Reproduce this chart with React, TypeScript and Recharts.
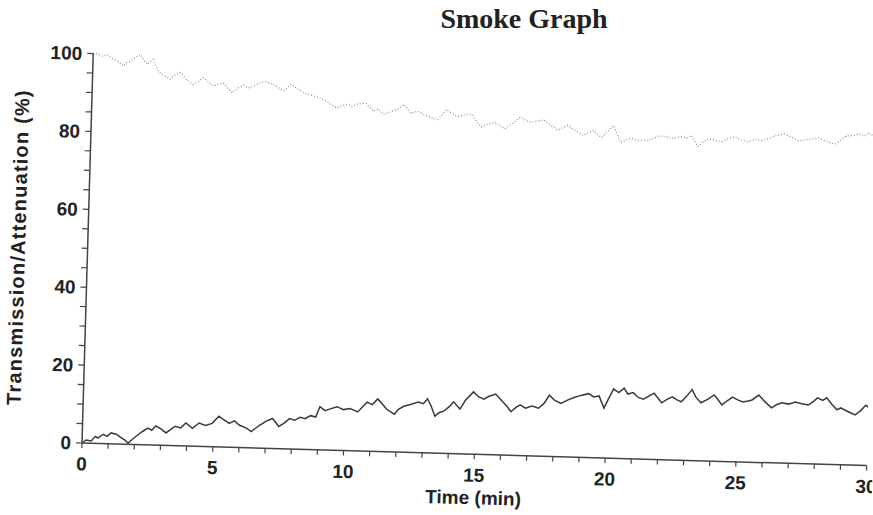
import React from "react";
import { LineChart, Line, XAxis, YAxis, Label } from "recharts";

const title = "Smoke Graph";
const xTitle = "Time (min)";
const yTitle = "Transmission/Attenuation (%)";

const xTicks = [0, 1, 2, 3, 4, 5, 6, 7, 8, 9, 10, 11, 12, 13, 14, 15, 16, 17, 18, 19, 20, 21, 22, 23, 24, 25, 26, 27, 28, 29, 30];
const yTicks = [0, 5, 10, 15, 20, 25, 30, 35, 40, 45, 50, 55, 60, 65, 70, 75, 80, 85, 90, 95, 100];

// Attenuation (dark solid trace)
const lowerTime = [0, 0.15, 0.35, 0.5, 0.6, 0.8, 0.95, 1.1, 1.3, 1.5, 1.65, 1.76, 1.9, 2.07, 2.3, 2.5, 2.65, 2.8, 3.0, 3.2, 3.4, 3.55, 3.75, 3.95, 4.2, 4.45, 4.7, 4.95, 5.2, 5.4, 5.6, 5.8, 6.0, 6.25, 6.45, 6.6, 6.75, 7.0, 7.25, 7.5, 7.7, 7.9, 8.1, 8.3, 8.5, 8.7, 8.9, 9.05, 9.25, 9.45, 9.7, 9.95, 10.2, 10.5, 10.7, 10.85, 11.05, 11.25, 11.45, 11.6, 11.9, 12.05, 12.25, 12.5, 12.8, 13.0, 13.15, 13.3, 13.45, 13.6, 13.8, 14.0, 14.15, 14.4, 14.6, 14.9, 15.1, 15.3, 15.5, 15.75, 16.0, 16.2, 16.35, 16.55, 16.7, 16.9, 17.15, 17.4, 17.6, 17.8, 18.0, 18.25, 18.5, 18.75, 19.0, 19.3, 19.5, 19.7, 19.9, 20.05, 20.25, 20.45, 20.65, 20.8, 21.0, 21.2, 21.4, 21.6, 21.8, 22.1, 22.3, 22.5, 22.7, 22.85, 23.05, 23.25, 23.4, 23.6, 23.85, 24.1, 24.25, 24.4, 24.6, 24.8, 25.0, 25.2, 25.4, 25.55, 25.8, 26.05, 26.3, 26.5, 26.7, 26.95, 27.2, 27.45, 27.7, 27.9, 28.05, 28.25, 28.4, 28.6, 28.8, 28.95, 29.1, 29.3, 29.5, 29.7, 29.9, 30.0];
const lowerValue = [0.0, 0.8, 0.6, 1.8, 1.4, 2.4, 1.9, 2.8, 2.5, 1.6, 1.0, 0.3, 1.2, 2.2, 3.4, 4.3, 3.8, 4.9, 4.2, 3.2, 4.3, 5.0, 4.6, 5.9, 4.6, 6.0, 5.4, 6.0, 7.9, 7.0, 6.1, 6.8, 5.7, 5.1, 4.2, 5.0, 5.8, 6.9, 7.7, 5.7, 6.6, 7.8, 7.4, 8.2, 7.9, 8.7, 8.4, 11.1, 10.1, 10.6, 11.2, 10.5, 10.8, 10.0, 11.5, 12.6, 12.0, 13.5, 12.1, 10.9, 9.7, 11.0, 11.8, 12.3, 13.0, 12.6, 13.9, 12.0, 9.5, 10.4, 10.9, 12.1, 13.3, 11.5, 13.8, 16.0, 14.8, 14.2, 15.0, 15.6, 13.9, 12.5, 11.2, 12.4, 13.0, 12.2, 12.8, 12.3, 13.5, 15.7, 14.5, 13.7, 14.6, 15.3, 15.9, 16.4, 15.6, 15.9, 12.8, 15.0, 17.8, 16.9, 18.1, 16.6, 17.0, 15.8, 15.4, 16.2, 17.0, 14.6, 15.5, 16.2, 15.4, 15.0, 16.5, 18.2, 16.3, 14.9, 15.8, 17.0, 15.8, 14.5, 15.6, 16.6, 15.9, 15.4, 15.7, 16.0, 17.3, 15.6, 14.1, 15.0, 15.5, 15.2, 15.8, 15.4, 15.1, 16.1, 17.0, 16.4, 17.1, 15.5, 14.1, 14.6, 14.1, 13.5, 12.9, 14.0, 15.5, 15.0];

// Transmission (light dotted trace)
const upperTime = [0, 0.15, 0.35, 0.55, 0.77, 0.95, 1.16, 1.3, 1.43, 1.6, 1.8, 1.95, 2.08, 2.3, 2.45, 2.6, 2.8, 2.97, 3.15, 3.35, 3.6, 3.86, 4.05, 4.24, 4.45, 4.63, 4.8, 5.01, 5.2, 5.36, 5.55, 5.78, 5.95, 6.16, 6.35, 6.55, 6.8, 7.08, 7.3, 7.6, 7.85, 8.1, 8.4, 8.73, 8.95, 9.12, 9.38, 9.55, 9.77, 9.95, 10.15, 10.46, 10.6, 10.77, 10.95, 11.15, 11.4, 11.7, 11.93, 12.2, 12.45, 12.7, 12.95, 13.23, 13.4, 13.55, 13.75, 14.0, 14.2, 14.5, 14.7, 14.9, 15.15, 15.4, 15.6, 15.8, 16.1, 16.4, 16.6, 16.8, 17.05, 17.3, 17.55, 17.8, 18.0, 18.2, 18.5, 18.8, 19.0, 19.2, 19.35, 19.5, 19.75, 19.95, 20.1, 20.25, 20.45, 20.65, 20.9, 21.15, 21.3, 21.5, 21.7, 21.9, 22.2, 22.55, 22.75, 22.95, 23.2, 23.4, 23.6, 23.85, 24.1, 24.35, 24.6, 24.85, 25.1, 25.4, 25.65, 25.9, 26.15, 26.5, 26.8, 27.05, 27.3, 27.55, 27.8, 28.05, 28.25, 28.45, 28.65, 28.85, 29.1, 29.35, 29.55, 29.7, 29.85, 30.0];
const upperValue = [100, 100.0, 99.4, 99.8, 98.7, 98.2, 97.0, 98.0, 98.3, 99.2, 100.1, 98.6, 97.6, 98.9, 96.8, 95.3, 94.6, 94.0, 95.1, 95.8, 93.9, 92.8, 93.7, 94.6, 93.5, 92.6, 93.0, 93.4, 92.0, 90.9, 92.2, 93.0, 92.3, 92.8, 93.6, 94.1, 93.7, 92.8, 91.8, 93.6, 92.4, 91.4, 90.9, 90.2, 89.6, 88.8, 87.8, 88.5, 88.9, 88.3, 89.0, 89.3, 88.4, 87.3, 87.9, 86.6, 87.2, 88.0, 89.3, 87.0, 87.6, 86.8, 86.1, 85.6, 86.8, 88.2, 87.3, 86.5, 86.9, 87.3, 85.6, 84.0, 84.8, 85.4, 84.6, 83.7, 85.2, 86.9, 86.0, 85.6, 86.0, 86.3, 85.1, 83.8, 84.4, 85.1, 83.8, 82.6, 83.4, 84.0, 83.0, 82.2, 83.9, 85.4, 83.2, 81.0, 81.8, 82.3, 81.8, 81.9, 81.7, 82.4, 83.0, 83.0, 82.5, 83.1, 82.7, 83.4, 80.6, 81.8, 82.7, 82.3, 82.0, 82.8, 83.4, 82.6, 82.2, 82.9, 82.6, 83.2, 83.9, 84.5, 83.6, 82.8, 83.1, 83.4, 83.7, 83.0, 82.6, 82.3, 83.2, 84.4, 84.6, 85.0, 84.4, 85.5, 84.9, 85.2];

const lowerData = lowerTime.map((t, i) => ({ t, v: lowerValue[i] }));
const upperData = upperTime.map((t, i) => ({ t, v: upperValue[i] }));

const sans = "'Liberation Sans', Arial, sans-serif";
const ink = "#222";

const XTick = (props: any) => {
  const { x, y, payload } = props;
  if (payload.value % 5 !== 0) return <g />;
  return (
    <text x={x} y={y} dy="0.71em" textAnchor="middle" fontFamily={sans} fontWeight="bold" fontSize={19} fill={ink}>
      {payload.value}
    </text>
  );
};

const YTick = (props: any) => {
  const { x, y, payload } = props;
  if (payload.value % 20 !== 0) return <g />;
  return (
    <text x={x} y={y} dy="0.355em" textAnchor="end" fontFamily={sans} fontWeight="bold" fontSize={19} fill={ink}>
      {payload.value}
    </text>
  );
};

export default function App() {
  return (
    <div style={{ position: "absolute", left: 0, top: 0, width: 873, height: 515, background: "#fff", overflow: "hidden" }}>
      <div style={{ position: "absolute", left: 0, top: 0, transform: "rotate(1.65deg)", transformOrigin: "82px 443px" }}>
        <LineChart width={873} height={515} margin={{ top: 53, right: 6, bottom: 22, left: 0 }}>
          <XAxis
            type="number"
            dataKey="t"
            domain={[0, 30]}
            ticks={xTicks}
            interval={0}
            height={50}
            tick={<XTick />}
            tickSize={5}
            tickMargin={9}
            axisLine={{ stroke: "#444", strokeWidth: 1.5 }}
            tickLine={{ stroke: "#444", strokeWidth: 1.2 }}
            allowDataOverflow
          >
            <Label
              content={() => (
                <text x={474.5} y={493} textAnchor="middle" fontFamily={sans} fontWeight="bold" fontSize={19} fill={ink}>
                  {xTitle}
                </text>
              )}
            />
          </XAxis>
          <YAxis
            type="number"
            domain={[0, 100]}
            ticks={yTicks}
            interval={0}
            width={82}
            tick={<YTick />}
            tickSize={6}
            tickMargin={5}
            axisLine={{ stroke: "#444", strokeWidth: 1.5 }}
            tickLine={{ stroke: "#444", strokeWidth: 1.2 }}
          >
            <Label
              content={() => (
                <text
                  x={12.4}
                  y={249}
                  transform="rotate(-90, 12.4, 249)"
                  textAnchor="middle"
                  dominantBaseline="central"
                  fontFamily={sans}
                  fontWeight="bold"
                  fontSize={20}
                  letterSpacing={1.2}
                  fill={ink}
                >
                  {yTitle}
                </text>
              )}
            />
          </YAxis>
          <Line
            data={upperData}
            dataKey="v"
            type="linear"
            stroke="#8a8a8a"
            strokeWidth={1.2}
            strokeDasharray="1 2"
            dot={false}
            isAnimationActive={false}
          />
          <Line
            data={lowerData}
            dataKey="v"
            type="linear"
            stroke="#3a3a3a"
            strokeWidth={1.5}
            dot={false}
            isAnimationActive={false}
          />
        </LineChart>
      </div>
      <svg width={873} height={50} style={{ position: "absolute", left: 0, top: 0 }}>
        <text x={524} y={28} textAnchor="middle" fontFamily="'Liberation Serif', 'Times New Roman', serif" fontWeight="bold" fontSize={28} fill={ink}>
          {title}
        </text>
      </svg>
    </div>
  );
}
